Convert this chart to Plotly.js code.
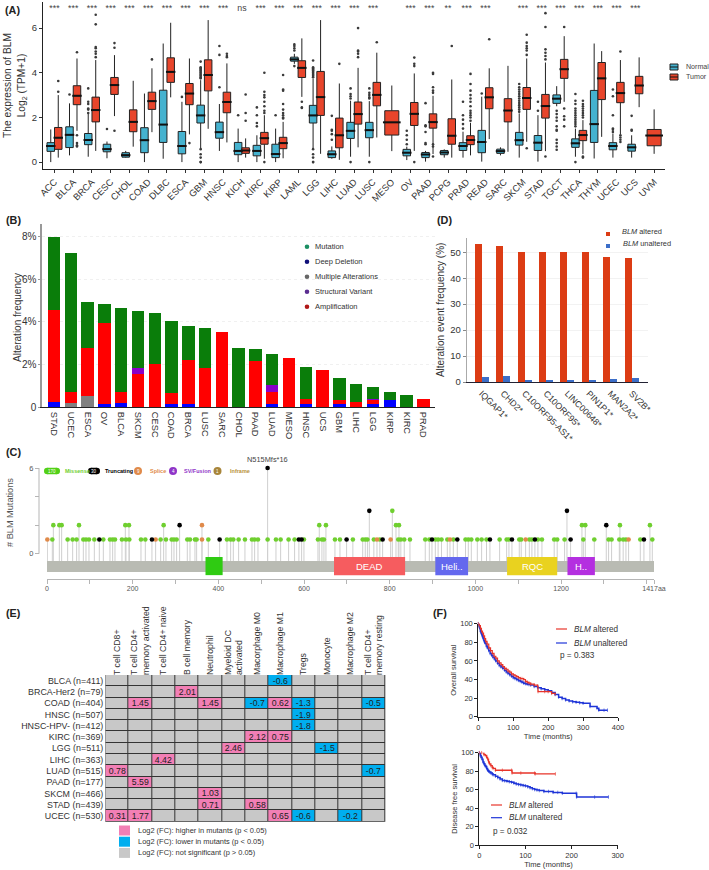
<!DOCTYPE html>
<html>
<head>
<meta charset="utf-8">
<script src="https://cdn.plot.ly/plotly-3.0.1.min.js"></script>
<style>body { margin: 0; background: #fff; }</style>
</head>
<body>
<div id="chart" style="width:709px;height:870px"></div>
<script>
// panel A: low, q1, median, q3, high per tumour type
var cancers = ['ACC','BLCA','BRCA','CESC','CHOL','COAD','DLBC','ESCA','GBM','HNSC','KICH','KIRC','KIRP','LAML','LGG','LIHC','LUAD','LUSC','MESO','OV','PAAD','PCPG','PRAD','READ','SARC','SKCM','STAD','TGCT','THCA','THYM','UCEC','UCS','UVM'];
var signif = ['***','***','***','***','***','***','***','***','***','***','ns','***','***','***','***','***','***','***','','***','***','**','***','***','','***','***','***','***','***','***','***',''];
var normalBox = [[0,.48,.72,.87,1.46],[.3,.65,1.22,1.58,2.63],[.24,.78,.99,1.28,2.18],[.17,.46,.58,.8,.92],[.2,.22,.31,.42,.5],[0,.42,.98,1.54,3.07],[.15,.88,1.68,3.22,5.31],[0,.37,.72,1.37,2.7],[.6,1.75,2.09,2.55,3.67],[.5,1.07,1.34,1.79,2.6],[0,.33,.5,.88,1.5],[0,.28,.5,.75,1.2],[0,.2,.36,.8,1.5],[4.4,4.52,4.6,4.7,4.85],[.6,1.75,2.09,2.54,3.74],[.15,.2,.35,.5,.7],[.24,1.06,1.4,1.78,2.75],[.24,1.09,1.43,1.78,2.73],null,[.09,.28,.42,.57,.69],[.02,.2,.34,.43,.5],[.2,.33,.43,.52,.57],[.2,.52,.72,.87,1.36],[.02,.42,.9,1.42,2.93],[.3,.39,.49,.58,.66],[.2,.76,.98,1.33,2.18],[.02,.52,.87,1.19,2.1],[2.5,2.63,2.84,3.01,3.4],[.24,.66,.84,1.04,1.5],[.16,.88,1.7,3.21,5.31],[.2,.55,.72,.87,1.28],[.2,.49,.66,.8,1.2],null];
var tumorBox = [[.2,.57,1.09,1.55,3],[1.4,2.57,2.97,3.42,4.64],[.5,1.8,2.33,2.91,4.57],[2.06,3.03,3.45,3.79,4.79],[.69,1.36,1.8,2.34,3.64],[1.34,2.36,2.73,3.13,4.2],[2.9,3.57,4.04,4.67,6.24],[1.24,2.57,3.07,3.52,4.64],[1.49,3.19,3.9,4.58,6.36],[.88,2.21,2.69,3.13,4.42],[.2,.39,.52,.64,1.06],[.15,.8,1.07,1.33,2.1],[.17,.6,.85,1.11,1.8],[2.92,3.79,4.22,4.54,5.54],[.37,2.09,2.91,4.06,6.36],[.1,.64,1.2,1.97,3.52],[.66,1.7,2.15,2.69,4.22],[1.1,2.52,3.01,3.57,4.9],[.49,1.21,1.78,2.3,3.43],[.5,1.64,2.16,2.67,3.97],[.36,1.52,1.79,2.16,2.97],[.2,.8,1.18,1.94,3.7],[.3,.78,.99,1.18,1.76],[1.03,2.39,2.9,3.33,4.2],[.46,1.8,2.31,2.84,4.31],[.91,2.36,2.87,3.34,4.64],[.49,1.97,2.51,3.03,4.46],[2.7,3.75,4.16,4.6,5.64],[.36,.96,1.21,1.42,1.88],[1.13,2.8,3.75,4.46,4.97],[1.24,2.66,3.09,3.57,4.57],[2.46,3.06,3.43,3.84,4.69],[.37,.73,1.19,1.46,2.36]];
var normalOut = [[],[3.03],[2.2,2.35,2.4,2.6,2.7,3.3],[1.48],[],[],[],[2.92],[0,0,.2,.35,.58,3.75,3.8,3.85,3.9,3.95,4,4.05,4.1,4.15,4.2,4.25,4.5],[3.35,4.8,5.2],[2.1],[1.6,1.75,2.1,2.45],[2.1],[4.3,5,5.1,5.2,5.27],[0,0,.2,.35,.58,3.8,3.85,3.9,3.95,4,4.05,4.1,4.15,4.2,4.25,4.55],[1,1.25,1.4,1.45,2.07],[0,2.85,2.95,3.05,3.3],[0,2.85,2.9,3,3.1,3.3],[],[.8,1,1.2,1.4],[.8,.85,1.35,1.6,1.65,2.64],[],[1.5,1.7,1.9,2.1,2.7],[3.07],[],[2.25,2.35,2.45,2.55,2.65,2.75,2.85,2.95,3.05,3.15,3.25,3.35,3.5],[2.3,2.7],[.55,.7,.85,1,1.4,1.45,1.6,1.85,2,2.15,2.3],[0,1.6,1.7,1.8,1.9,2,2.1,2.2,2.3,2.4,2.6,2.75,3.05],[],[1.35,1.45,1.5,2.1,2.95,3.25],[1.4,1.45,2.07],[]];
var tumorOut = [[3.15,3.63],[.7,.75,.85,1.2,4.92],[4.7,4.85,4.95,5.1,5.15,6.17,6.6],[1.4,5.12,5.33],[],[4.6],[],[.85],[],[4.7,4.75,4.85],[1.85,2.2,3.03],[0,2.2,2.3,2.5,2.7,2.9,3,3.15,4],[1.95,2,2.1,2.2,2.35,2.6,3.2,3.25,3.9],[2.42,2.45,2.7],[],[4.4],[4.7,4.85,4.95,5,6],[5.37],[],[0,4.3,4.4,4.68],[.25,.7,.8,3.1,3.2,3.35,3.95,4],[5.2],[1.85,2,2.1,2.2,2.3,2.5,2.7,2.85,3,3.2,3.5,3.95],[5.5],[],[.62,4.8,5,5.1,5.2,5.35,5.7],[.25,4.6,4.75,4.9,5.05,6.05,6.67],[1.6,1.9,2.05,2.4,6.05],[.2,.25,2,2.1,2.2,2.3,2.4,2.5,2.6,2.75],[],[.9,1,1.1,1.2,4.95],[],[]];

// panel B
var altTypes = ['STAD','UCEC','ESCA','OV','BLCA','SKCM','CESC','COAD','BRCA','LUSC','SARC','CHOL','PAAD','LUAD','MESO','HNSC','UCS','GBM','LIHC','LGG','KIRP','KIRC','PRAD'];
var deepDel = [.22,0,0,.15,.2,0,0,.15,.13,0,0,0,0,.15,0,.15,0,.15,0,.15,.33,0,0];
var multiAlt = [0,.17,.52,0,0,0,0,0,.02,0,0,0,0,0,0,0,0,0,0,0,0,0,0];
var amplif = [4.33,.55,2.23,3.81,.49,1.55,2,.49,2.05,1.85,3.54,0,2.15,.54,2.28,.21,1.74,.16,.23,.17,0,0,.37];
var structVar = [0,0,0,0,0,.27,0,0,.02,0,0,0,0,.34,0,0,0,0,0,.04,0,0,0];
var mutation = [3.45,6.51,2.2,.86,3.94,2.7,2.4,3.41,1.6,1.84,0,2.78,.55,1.44,0,1.53,0,1.04,.83,.59,.36,.56,0];

// panel D
var coGenes = ['IQGAP1*','CHD2*','C10ORF95-AS1*','C10ORF95*','LINC00648*','PIN1P1*','MAN2A2*','SV2B*'];
var coAltered = [53,52.4,50,50,50,50,48.1,47.8];
var coUnaltered = [1.9,2.3,.7,.7,.8,.8,1.2,1.5];

// panel C: amino acid positions by mutation count
var missenseOne = [12.4,48.2,59.9,69.2,84.8,91,98,110.5,131.5,147,153.3,158.7,175,184.4,192.2,219.4,229.5,265.3,277.7,291,296.4,302.6,327.5,333.8,345.4,349.3,376.6,420.1,428.7,434.9,447.3,462.1,478.5,484.7,492.5,515,534.5,545.4,564,578,599.8,632.5,641.8,646.5,672.2,683.9,714,737,743,748,763,777,820,826,834,847.3,883,892.5,906.5,913,921,934.5,948.5,977,983.5,990.5,1004.5,1014.6,1026,1056.6,1073,1078.4,1102.5,1107,1126,1132,1146,1155.4,1184,1191,1208.3,1252,1277.6,1311,1318,1336,1345,1351.5,1385,1413];
var missenseTwo = [14.8,28.8,34.2,74.7,182.8,191.4,272.3,635.6,651.2,814.7,821.7,1248.8,1256.6,1337.5,1407.5];
var missenseThree = [806.1];
var spliceOne = [.8,253.6,361.8,770.3,802.2,940.7,1117.3,1357.7];
var spliceTwo = [361.8];
var truncOne = [122.1,245,403,588,594.4,699.4,783.5,898.7,957.8,1034,1085.4,1139,1222.3,1393.5];
var truncTwo = [309.6,1305.6];
var truncThree = [752.4,1213.8];
var truncSix = [515];
var domainName = ['','DEAD','Heli..','RQC','H..'];
var domainStart = [370,670,906.5,1074,1215];
var domainEnd = [410,836,983,1191,1279];
var domainColor = ['#2fcb12','#f65c5f','#6468ee','#e9d21f','#b42fe0'];

// panel E
var cellTypes = ['T cell CD8+','T cell CD4+<br>memory activated','T cell CD4+ naive','B cell memory','Neutrophil','Myeloid DC<br>activated','Macorphage M0','Macrophage M1','Tregs','Monocyte','Macrophage M2','T cell CD4+<br>memory resting'];
var cohorts = ['BLCA (n=411)','BRCA-Her2 (n=79)','COAD (n=404)','HNSC (n=507)','HNSC-HPV- (n=412)','KIRC (n=369)','LGG (n=511)','LIHC (n=363)','LUAD (n=515)','PAAD (n=177)','SKCM (n=466)','STAD (n=439)','UCEC (n=530)'];
var _ = null;
var foldChange = [
  [_,_,_,_,_,_,_,-0.6,_,_,_,_],
  [_,_,_,2.01,_,_,_,_,_,_,_,_],
  [_,1.45,_,_,1.45,_,-0.7,0.62,-1.3,_,_,-0.5],
  [_,_,_,_,_,_,_,_,-1.9,_,_,_],
  [_,_,_,_,_,_,_,_,-1.8,_,_,_],
  [_,_,_,_,_,_,2.12,0.75,_,_,_,_],
  [_,_,_,_,_,2.46,_,_,_,-1.5,_,_],
  [_,_,4.42,_,_,_,_,_,_,_,_,_],
  [0.78,_,_,_,_,_,_,_,_,_,_,-0.7],
  [_,5.59,_,_,_,_,_,_,_,_,_,_],
  [_,_,_,_,1.03,_,_,_,_,_,_,_],
  [_,_,_,_,0.71,_,0.58,_,_,_,_,_],
  [0.31,1.77,_,_,_,_,_,0.65,-0.6,_,-0.2,_]
];

// panel F
var osAltT = [0,3,6,9,12,15,18,21,25,30,35,40,45,50,55,60,65,70,75,80,85,90,95,100,105,110,115,120,125,130,135,140,145,150,160,170,171,190,200,210,220];
var osAltS = [100,98,95,92,90,87,84,81,78,74,71,68,65,63,60,58,56,54,52,51,49,48,46,45,44,43,42,41,41,40,38,37,36,35,34,33,27,27,27,25,24];
var osUnT = [0,2,4,6,8,10,12,14,16,18,20,23,26,30,34,38,42,46,50,55,60,65,70,75,80,85,90,95,100,105,110,115,120,125,130,135,140,145,150,160,170,180,190,200,210,220,230,240,250,260,270,280,290,300,320,340,345,360,370];
var osUnS = [100,97,95,92,90,88,86,84,82,80,79,76,74,71,68,66,64,62,60,57.5,55,53.5,52,50,48,46.5,45,43.5,42,41,40,39,38,37,36,35.5,35,34.5,34,32.5,31,30,29,28,26,24,21,19.5,18,17,16,15.5,15,14.5,11,9,7,7,7];
var dfsAltT = [0,5,10,13,16,18,20,22,25,28,30,35,50,70,71,90,120,121,165];
var dfsAltS = [100,100,98,97,95,93,90,88,86,84,83,81,81,81,78,78,78,77,77];
var dfsUnT = [0,2,4,6,8,10,12,14,16,18,20,22,25,28,30,35,40,45,50,55,60,65,70,75,80,85,90,95,100,105,110,115,120,125,130,140,150,160,170,180,210,211,250,280];
var dfsUnS = [100,97,95,93,90,88,86,85,83,81,80,79,78,77,76,74.5,73,71.5,70,69.5,69,68.5,68,67,66,65.5,65,64.5,64,63,62,61,60,59.5,59,58,58,57,57,56,56,52,52,52];

var W = 709, H = 870;
var FONT = 'Liberation Sans, Arial, sans-serif';
var TXT = '#333333';
function domX(a, b) { return [a / W, b / W]; }
function domY(top, bot) { return [1 - bot / H, 1 - top / H]; }

var shapes = [];
var annotations = [];
function label(x, y, text, size, color, anchor, extra) {
  var a = {xref: 'paper', yref: 'paper', x: x / W, y: 1 - y / H, text: text, showarrow: false,
           xanchor: anchor || 'left', yanchor: 'middle', font: {family: FONT, size: size, color: color || TXT}};
  if (extra) { for (var k in extra) a[k] = extra[k]; }
  annotations.push(a);
}
function box(x0, y0, x1, y1, fill, line, layer) {
  shapes.push({type: 'rect', xref: 'paper', yref: 'paper', x0: x0 / W, x1: x1 / W, y0: 1 - y0 / H, y1: 1 - y1 / H,
               fillcolor: fill, line: {width: line ? 1 : 0, color: line || fill}, layer: layer || 'above'});
}
function dot(cx, cy, r, fill) {
  shapes.push({type: 'circle', xref: 'paper', yref: 'paper', x0: (cx - r) / W, x1: (cx + r) / W, y0: 1 - (cy + r) / H, y1: 1 - (cy - r) / H,
               fillcolor: fill, line: {width: 0}});
}
function seg(x0, y0, x1, y1, color, width) {
  shapes.push({type: 'line', xref: 'paper', yref: 'paper', x0: x0 / W, x1: x1 / W, y0: 1 - y0 / H, y1: 1 - y1 / H,
               line: {color: color, width: width}});
}
function pill(x0, x1, cy, h, fill) {
  box(x0 + h / 2, cy - h / 2, x1 - h / 2, cy + h / 2, fill);
  dot(x0 + h / 2, cy, h / 2, fill);
  dot(x1 - h / 2, cy, h / 2, fill);
}

var traces = [];

// ---- A: boxes ----
var NORMAL = '#45b2cf', TUMOR = '#e8452b', BOXW = 0.4, OFF = 0.2;
function addBoxes(rows, outs, offset, color, width, wantWide) {
  var x = [], low = [], q1 = [], med = [], q3 = [], high = [], ox = [], oy = [];
  for (var i = 0; i < rows.length; i++) {
    if (!rows[i]) continue;
    var solo = offset > 0 && !normalBox[i];
    if (solo != wantWide) continue;
    var pos = i + (solo ? 0 : offset);
    x.push(pos); low.push(rows[i][0]); q1.push(rows[i][1]); med.push(rows[i][2]); q3.push(rows[i][3]); high.push(rows[i][4]);
    for (var j = 0; j < outs[i].length; j++) { ox.push(pos); oy.push(outs[i][j]); }
  }
  if (!x.length) return;
  if (ox.length) traces.push({type: 'scatter', mode: 'markers', x: ox, y: oy, xaxis: 'x', yaxis: 'y', hoverinfo: 'skip',
               marker: {size: 2.6, color: '#3a3a3a'}});
  traces.push({type: 'box', x: x, lowerfence: low, q1: q1, median: med, q3: q3, upperfence: high, width: width,
               xaxis: 'x', yaxis: 'y', boxpoints: false, whiskerwidth: 0, fillcolor: color,
               line: {color: '#222222', width: 1}});
  traces.push({type: 'scatter', mode: 'markers', x: x, y: med, xaxis: 'x', yaxis: 'y', hoverinfo: 'skip',
               marker: {symbol: 'line-ew', size: width * 18.74 * 0.9, line: {width: 2, color: '#111111'}}});
}
addBoxes(normalBox, normalOut, -OFF, NORMAL, BOXW, false);
addBoxes(tumorBox, tumorOut, OFF, TUMOR, BOXW, false);
addBoxes(tumorBox, tumorOut, OFF, TUMOR, 0.75, true);
var sigX = [], sigY = [], sigT = [];
signif.forEach(function(s, i) { if (s) { sigX.push(i); sigY.push(6.88); sigT.push(s); } });
traces.push({type: 'scatter', mode: 'text', x: sigX, y: sigY, text: sigT, textposition: 'middle center', xaxis: 'x', yaxis: 'y',
             textfont: {family: FONT, size: 8.8, color: '#444'}, hoverinfo: 'skip'});

// ---- B: stacked bars ----
var stack = [[deepDel, '#0000ff'], [multiAlt, '#808080'], [amplif, '#ff0000'], [structVar, '#8a00c8'], [mutation, '#0a7d0a']];
stack.forEach(function(s) {
  traces.push({type: 'bar', x: altTypes, y: s[0], xaxis: 'x2', yaxis: 'y2', marker: {color: s[1]}, hoverinfo: 'skip'});
});

// ---- D: side by side bars (barmode is shared, so offsetgroups keep them from stacking) ----
traces.push({type: 'bar', x: coGenes, y: coAltered, xaxis: 'x3', yaxis: 'y3', marker: {color: '#dc3c14'}, offsetgroup: 'a', width: 0.327, offset: -0.327, hoverinfo: 'skip'});
traces.push({type: 'bar', x: coGenes, y: coUnaltered, xaxis: 'x3', yaxis: 'y3', marker: {color: '#3c6ec8'}, offsetgroup: 'b', width: 0.327, offset: 0, hoverinfo: 'skip'});

// ---- C: lollipops ----
function lollipop(groups, color) {
  var x = [], y = [], sx = [], sy = [];
  groups.forEach(function(g) {
    g[0].forEach(function(p) {
      x.push(p); y.push(g[1]);
      sx.push(p, p, null); sy.push(-0.51, g[1], null);
    });
  });
  return {stem: {type: 'scatter', mode: 'lines', x: sx, y: sy, xaxis: 'x4', yaxis: 'y4', line: {color: '#cfcfcf', width: 1}, hoverinfo: 'skip'},
          head: {type: 'scatter', mode: 'markers', x: x, y: y, xaxis: 'x4', yaxis: 'y4', marker: {color: color, size: 4.6}, hoverinfo: 'skip', cliponaxis: false}};
}
var lolli = [lollipop([[missenseOne, 1], [missenseTwo, 2], [missenseThree, 3]], '#6fcf2f'),
             lollipop([[spliceOne, 1], [spliceTwo, 2]], '#e08a4a'),
             lollipop([[truncOne, 1], [truncTwo, 2], [truncThree, 3], [truncSix, 6]], '#000000')];
lolli.forEach(function(l) { traces.push(l.stem); });
lolli.forEach(function(l) { traces.push(l.head); });
shapes.push({type: 'rect', xref: 'x4', yref: 'y4', x0: 0, x1: 1417, y0: -1.28, y1: -0.51, fillcolor: '#b9bbb3', line: {width: 0}, layer: 'above'});
domainStart.forEach(function(s, i) {
  shapes.push({type: 'rect', xref: 'x4', yref: 'y4', x0: s, x1: domainEnd[i], y0: -1.5, y1: -0.23, fillcolor: domainColor[i], line: {width: 0}, layer: 'above'});
  if (domainName[i]) annotations.push({xref: 'x4', yref: 'y4', x: (s + domainEnd[i]) / 2, y: -0.86, text: domainName[i], showarrow: false,
                                       font: {family: FONT, size: 9.5, color: '#ffffff'}});
});
shapes.push({type: 'line', xref: 'paper', yref: 'y4', x0: 39 / W, x1: 39 / W, y0: 0, y1: 6, line: {color: '#b5b5b5', width: 1}});
annotations.push({xref: 'x4', yref: 'y4', x: 515, y: 6, yshift: 8, text: 'N515Mfs*16', showarrow: false, font: {family: FONT, size: 7.4, color: '#444'}});

// ---- E: heat map ----
var PINK = '#f27fb5', CYAN = '#00aeef', GREY = '#c8c8c8';
var heatZ = foldChange.map(function(r) { return r.map(function(v) { return v === null ? 0 : (v > 0 ? 1 : -1); }); });
var heatText = foldChange.map(function(r) { return r.map(function(v) { return v === null ? '' : String(v); }); });
box(105.3, 675, 385.3, 821.7, '#333333', null, 'below');
traces.push({type: 'heatmap', x: cellTypes, y: cohorts, z: heatZ, text: heatText, texttemplate: '%{text}', xaxis: 'x5', yaxis: 'y5',
             xgap: 1, ygap: 1, zmin: -1, zmax: 1, showscale: false, hoverinfo: 'skip',
             textfont: {family: FONT, size: 8.7, color: '#222'},
             colorscale: [[0, CYAN], [0.33, CYAN], [0.33, GREY], [0.66, GREY], [0.66, PINK], [1, PINK]]});

// ---- F: survival ----
function km(t, s, color, ax, ay, w) {
  traces.push({type: 'scatter', mode: 'lines+markers', x: t, y: s, xaxis: ax, yaxis: ay, cliponaxis: false, hoverinfo: 'skip',
               line: {shape: 'hv', color: color, width: w},
               marker: {symbol: 'line-ns', size: 2.5, color: color, line: {width: 0.6, color: color}}});
}
km(osUnT, osUnS, '#1f35d8', 'x6', 'y6', 1.5);
km(osAltT, osAltS, '#e8342a', 'x6', 'y6', 1.2);
km(dfsUnT, dfsUnS, '#1f35d8', 'x7', 'y7', 1.5);
km(dfsAltT, dfsAltS, '#e8342a', 'x7', 'y7', 1.3);

// ---- keys and notes ----
label(3, 10, '<b>(A)</b>', 10.8, '#222');
label(4, 220, '<b>(B)</b>', 10.8, '#222');
label(435, 220, '<b>(D)</b>', 10.8, '#222');
label(4, 452, '<b>(C)</b>', 10.8, '#222');
label(4, 613, '<b>(E)</b>', 10.8, '#222');
label(431, 613, '<b>(F)</b>', 10.8, '#222');
label(17, 318, 'Alteration frequency', 10, TXT, 'center', {textangle: -90});
label(10, 513, '# BLM Mutations', 9.2, '#555', 'center', {textangle: -90});

// A key
[[67, NORMAL, 'Normal'], [77, TUMOR, 'Tumor']].forEach(function(k) {
  box(670, k[0] - 3, 678, k[0] + 3, k[1], '#222222');
  seg(670, k[0], 678, k[0], '#111111', 1);
  label(684, k[0], k[2], 7.1, '#444');
});

// B key
[['#1b8f63', 'Mutation'], ['#10107a', 'Deep Deletion'], ['#666666', 'Multiple Alterations'], ['#5b2d91', 'Structural Variant'], ['#b01818', 'Amplification']].forEach(function(k, i) {
  var y = 246.7 + i * 15;
  dot(307, y, 2.3, k[0]);
  label(313, y, k[1], 7.5, '#333');
});

// D key
box(606, 232, 610, 236, '#dc3c14');
box(606, 244, 610, 248, '#3c6ec8');
label(620, 232, '<i>BLM</i> altered', 7.4, '#333');
label(621, 244, '<i>BLM</i> unaltered', 7.4, '#333');

// C key
pill(44, 60, 471, 6.5, '#52d017');
label(52, 471, '170', 4.5, '#fff', 'center');
label(62.5, 471, '<b>Missense</b>', 5.5, '#6fcf2f');
pill(88, 100, 471, 6.5, '#000000');
label(94, 471, '30', 4.5, '#fff', 'center');
label(103, 471, '<b>Truncating</b>', 5.5, '#000');
dot(138, 471, 4, '#e08a4a');
label(138, 471, '9', 4.5, '#fff', 'center');
label(148, 471, '<b>Splice</b>', 5.5, '#e08a4a');
dot(173, 471, 4, '#8f35c8');
label(173, 471, '4', 4.5, '#fff', 'center');
label(182, 471, '<b>SV/Fusion</b>', 5.5, '#8f35c8');
dot(217.5, 471, 4, '#a8853a');
label(217.5, 471, '1', 4.5, '#fff', 'center');
label(228, 471, '<b>Inframe</b>', 5.5, '#b8923a');

// E key
[[PINK, 'Log2 (FC): higher in mutants (p &lt; 0.05)'], [CYAN, 'Log2 (FC): lower in mutants (p &lt; 0.05)'], [GREY, 'Log2 (FC): not significant (p &gt; 0.05)']].forEach(function(k, i) {
  var y = 830.5 + i * 11.2;
  box(119, y - 5, 130, y + 5, k[0]);
  label(136, y, k[1], 7.45, '#333');
});

// F keys
function kmKey(x, y, text, color) {
  seg(x, y, x + 11, y, color, 1.2);
  label(x + 16, y, '<i>BLM</i> ' + text, 8.2, '#333');
}
kmKey(556, 629, 'altered', '#e8342a');
kmKey(556, 643, 'unaltered', '#1f35d8');
label(558, 655, 'p = 0.383', 8.2, '#333');
kmKey(491, 805, 'altered', '#e8342a');
kmKey(491, 817.7, 'unaltered', '#1f35d8');
label(491, 831, 'p = 0.032', 8.2, '#333');

function tf(size, color) { return {family: FONT, size: size, color: color || TXT}; }

var minorC = [100, 300, 500, 700, 900, 1100, 1300, 1400];

var layout = {
  width: W, height: H, autosize: false, margin: {l: 0, r: 0, t: 0, b: 0},
  paper_bgcolor: '#ffffff', plot_bgcolor: 'rgba(0,0,0,0)', showlegend: false, hovermode: false,
  barmode: 'stack', font: {family: FONT, color: TXT},
  shapes: shapes, annotations: annotations,

  xaxis: {domain: domX(43, 665), range: [-0.614, 32.58], tickmode: 'array', tickvals: cancers.map(function(c, i) { return i; }), ticktext: cancers,
          tickangle: -45, tickfont: tf(9.3), ticks: 'outside', ticklen: 3, tickcolor: '#333', showline: true, linecolor: '#222', linewidth: 1, showgrid: false, zeroline: false, anchor: 'y'},
  yaxis: {domain: domY(2, 169), range: [-0.31, 7.17], tickvals: [0, 2, 4, 6], tickfont: tf(9.5), ticks: 'outside', ticklen: 3, tickcolor: '#333', showline: true, linecolor: '#222', linewidth: 1,
          showgrid: false, zeroline: false, anchor: 'x', title: {text: 'The expression of BLM<br>Log<sub>2</sub> (TPM+1)', font: tf(10.2), standoff: 4}},

  xaxis2: {domain: domX(41.7, 435), range: [-0.73, 22.69], type: 'category', tickangle: 90, tickfont: tf(9.3), ticks: '', showline: true, linecolor: '#222', showgrid: false, zeroline: false, anchor: 'y2', ticklabelstandoff: 2},
  yaxis2: {domain: domY(224, 407), range: [0, 8.59], tickvals: [0, 2, 4, 6, 8], ticktext: ['0', '2%', '4%', '6%', '8%'], tickfont: tf(10), ticks: 'outside', ticklen: 2, tickcolor: '#999', showline: true, linecolor: '#999', linewidth: 1.3,
           gridcolor: '#f0f0f0', griddash: 'dot', zeroline: false, anchor: 'x2'},

  xaxis3: {domain: domX(466.7, 648), range: [-0.7, 7.76], type: 'category', tickangle: 45, tickfont: tf(8.8), ticks: '', showline: true, linecolor: '#223', showgrid: false, zeroline: false, anchor: 'y3', ticklabelstandoff: 2},
  yaxis3: {domain: domY(237.7, 382), range: [0, 55.6], tickvals: [0, 10, 20, 30, 40, 50], tickfont: tf(9.5), ticks: 'outside', ticklen: 3, tickcolor: '#888', showline: true, linecolor: '#aaa',
           gridcolor: '#f2f2f2', zeroline: false, anchor: 'x3', title: {text: 'Alteration event frequency (%)', font: tf(10), standoff: 3}},

  xaxis4: {domain: domX(47, 654), range: [0, 1417], tickmode: 'array', tickvals: [0, 200, 400, 600, 800, 1000, 1200, 1417], ticktext: ['0', '200', '400', '600', '800', '1000', '1200', '1417aa'], tickangle: 0,
           tickfont: tf(7, '#555'), ticks: 'outside', ticklen: 4, tickcolor: '#b5b5b5', minor: {tickmode: 'array', tickvals: minorC, ticks: 'outside', ticklen: 4, tickcolor: '#b5b5b5', showgrid: false},
           showline: true, linecolor: '#b5b5b5', showgrid: false, zeroline: false, anchor: 'y4', ticklabelstandoff: -1},
  yaxis4: {domain: domY(462, 579), range: [-1.77, 6.42], tickmode: 'array', tickvals: [0, 6], ticktext: ['0', '6'], tickfont: tf(7.5, '#555'), ticks: 'outside', ticklen: 4, tickcolor: '#b5b5b5',
           minor: {tickmode: 'array', tickvals: [2, 4], ticks: 'outside', ticklen: 4, tickcolor: '#b5b5b5', showgrid: false},
           showline: false, showgrid: false, zeroline: false, anchor: 'free', position: 39 / W},

  xaxis5: {domain: domX(105.3, 385.3), side: 'top', tickangle: -90, tickfont: tf(8.7), ticks: '', showline: false, showgrid: false, zeroline: false, anchor: 'y5', automargin: false, type: 'category', ticklabelstandoff: -1},
  yaxis5: {domain: domY(675, 821.7), autorange: 'reversed', tickfont: tf(8.9), ticks: '', showline: false, showgrid: false, zeroline: false, anchor: 'x5', automargin: false, type: 'category', ticklabelstandoff: 1},

  xaxis6: {domain: domX(478.3, 618), range: [0, 400], tickvals: [0, 100, 200, 300, 400], tickfont: tf(7.5), ticks: 'outside', ticklen: 3, tickcolor: '#222', showline: true, linecolor: '#222', showgrid: false, zeroline: false, anchor: 'y6',
           title: {text: 'Time (months)', font: tf(7.6), standoff: 2}},
  yaxis6: {domain: domY(623.7, 716.7), range: [0, 100], tickvals: [0, 20, 40, 60, 80, 100], tickfont: tf(7.5), ticks: 'outside', ticklen: 3, tickcolor: '#222', showline: true, linecolor: '#222', showgrid: false, zeroline: false, anchor: 'x6',
           title: {text: 'Overall survival', font: tf(7.5), standoff: 2}},
  xaxis7: {domain: domX(479.3, 617.7), range: [0, 300], tickvals: [0, 100, 200, 300], tickfont: tf(7.5), ticks: 'outside', ticklen: 3, tickcolor: '#222', showline: true, linecolor: '#222', showgrid: false, zeroline: false, anchor: 'y7',
           title: {text: 'Time (months)', font: tf(7.6), standoff: 2}},
  yaxis7: {domain: domY(752.7, 845), range: [0, 100], tickvals: [0, 20, 40, 60, 80, 100], tickfont: tf(7.5), ticks: 'outside', ticklen: 3, tickcolor: '#222', showline: true, linecolor: '#222', showgrid: false, zeroline: false, anchor: 'x7',
           title: {text: 'Disease free survival', font: tf(7.5), standoff: 2}},
  bargap: 0.26
};

Plotly.newPlot('chart', traces, layout, {displaylogo: false, displayModeBar: false, staticPlot: true});
</script>
</body>
</html>
